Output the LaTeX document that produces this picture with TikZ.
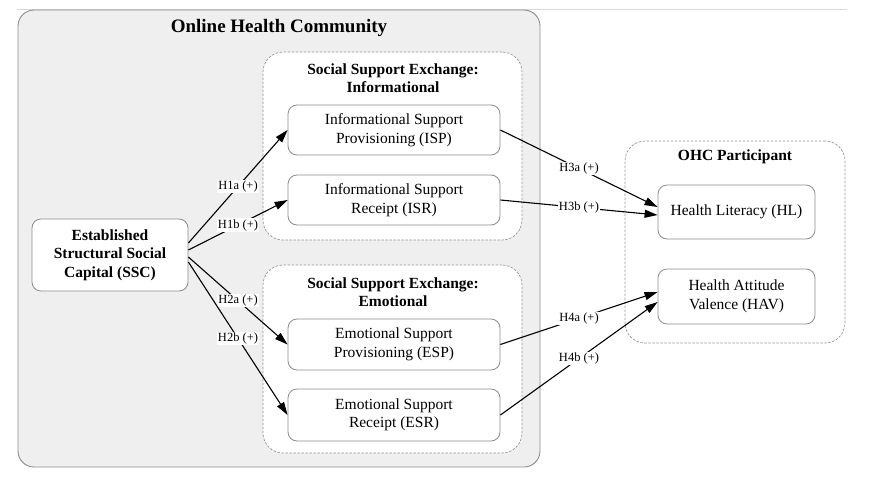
\documentclass[tikz,border=0pt]{standalone}
\usepackage{fontspec}
\setmainfont{Liberation Serif}
\usetikzlibrary{arrows.meta,calc}
\definecolor{bgout}{RGB}{239,239,239}
\definecolor{edgegray}{RGB}{140,140,140}
\definecolor{dashgray}{RGB}{150,150,150}
\tikzset{
  container/.style={draw=edgegray, line width=0.9pt, fill=bgout, rounded corners=16pt, inner sep=0pt},
  group/.style={draw=dashgray, dashed, dash pattern=on 2.5pt off 1.5pt, line width=0.7pt, fill=white, rounded corners=20pt, inner sep=0pt},
  construct/.style={draw=edgegray, line width=0.8pt, fill=white, rounded corners=9pt, align=center, inner sep=0pt,
    font=\fontsize{15.5}{18.5}\selectfont},
  titletext/.style={font=\bfseries\fontsize{15.5}{18.5}\selectfont, align=center, inner sep=0pt},
  hyp/.style={line width=1.1pt, -{Triangle[length=13pt,width=8pt]}},
  hlabel/.style={fill=white, inner sep=1pt, font=\fontsize{12.5}{14}\selectfont, midway}
}
\begin{document}
\begin{tikzpicture}[x=1pt,y=-1pt]
\useasboundingbox (0,0) rectangle (877,485);
\draw[gray!30, line width=0.6pt] (17,9) coordinate (tl) -- (847,9) coordinate (tr);
% outer container
\node[container, minimum width=522pt, minimum height=457pt] (ohc) at (279,238.5) {};
\node[font=\bfseries\fontsize{19}{22}\selectfont, inner sep=0pt] (ohct) at (279,28) {Online Health Community};
% groups
\node[group, minimum width=259pt, minimum height=188pt] (ginfo) at (392.5,146) {};
\node[titletext] (ginfot) at (393,78) {Social Support Exchange:\\Informational};
\node[group, minimum width=259pt, minimum height=188pt] (gemo) at (392.5,359) {};
\node[titletext] (gemot) at (393,292) {Social Support Exchange:\\Emotional};
\node[group, minimum width=220pt, minimum height=202pt] (gpart) at (735,242) {};
\node[titletext] (gpartt) at (735,157) {OHC Participant};
% constructs
\node[construct, font=\bfseries\fontsize{15.5}{18.5}\selectfont, minimum width=156pt, minimum height=72pt] (ssc) at (110,255) {Established\\Structural Social\\Capital (SSC)};
\node[construct, minimum width=212pt, minimum height=50pt] (isp) at (394,130) {Informational Support\\Provisioning (ISP)};
\node[construct, minimum width=212pt, minimum height=50pt] (isr) at (394,200) {Informational Support\\Receipt (ISR)};
\node[construct, minimum width=212pt, minimum height=51pt] (esp) at (394,344.5) {Emotional Support\\Provisioning (ESP)};
\node[construct, minimum width=212pt, minimum height=52pt] (esr) at (394,415) {Emotional Support\\Receipt (ESR)};
\node[construct, minimum width=157pt, minimum height=54pt] (hl) at (736.5,212) {Health Literacy (HL)};
\node[construct, minimum width=157pt, minimum height=55pt] (hav) at (736.5,296.5) {Health Attitude\\Valence (HAV)};
% hypotheses
\draw[hyp] ($(ssc.east)+(0,-12)$) -- (isp.west) node[hlabel] {H1a (+)};
\draw[hyp] ($(ssc.east)+(0,-5)$) -- (isr.west) node[hlabel] {H1b (+)};
\draw[hyp] ($(ssc.east)+(0,2)$) -- (esp.west) node[hlabel] {H2a (+)};
\draw[hyp] ($(ssc.east)+(0,7)$) -- (esr.west) node[hlabel] {H2b (+)};
\draw[hyp] (isp.east) -- ($(hl.west)+(0,-5)$) node[hlabel] {H3a (+)};
\draw[hyp] (isr.east) -- ($(hl.west)+(0,3)$) node[hlabel] {H3b (+)};
\draw[hyp] (esp.east) -- ($(hav.west)+(0,-4.5)$) node[hlabel] {H4a (+)};
\draw[hyp] (esr.east) -- ($(hav.west)+(0,5.5)$) node[hlabel] {H4b (+)};
\end{tikzpicture}
\end{document}
